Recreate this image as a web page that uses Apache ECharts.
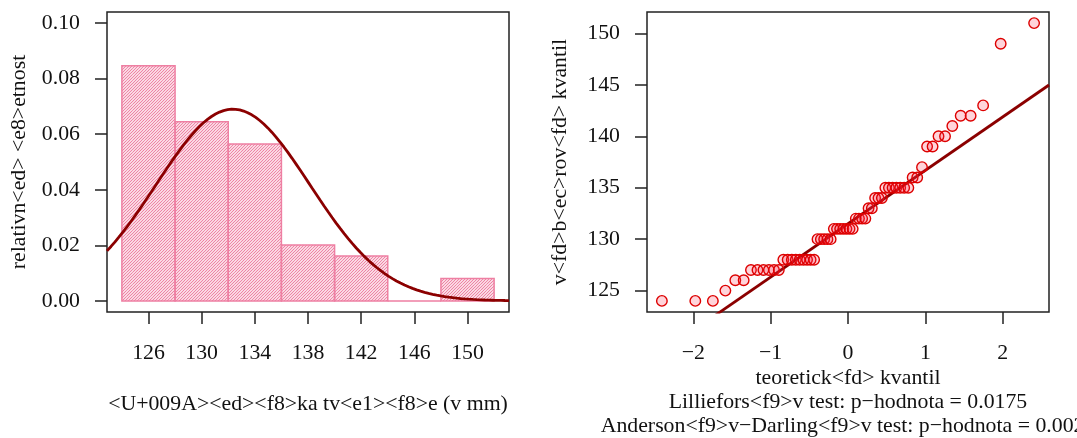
<!DOCTYPE html>
<html>
<head>
<meta charset="utf-8">
<script src="https://cdn.jsdelivr.net/npm/echarts@6/dist/echarts.min.js"></script>
<style>
  html, body { margin: 0; padding: 0; background: #fff; }
  #chart { width: 1077px; height: 438px; }
</style>
</head>
<body>
<div id="chart"></div>
<script>
// Observed lengths (mm) and how many times each occurs
const lengthValues = [124, 125, 126, 127, 128, 130, 131, 132, 133, 134, 135, 136, 137, 139, 140, 141, 142, 143, 149, 151];
const lengthCounts = [3, 1, 2, 6, 9, 5, 7, 4, 2, 3, 7, 2, 1, 2, 2, 1, 2, 1, 1, 1];

// Histogram class boundaries and vertical limits
const histBreaks = [124, 128, 132, 136, 140, 144, 148, 152];
const histYLimits = [0, 0.10];

// Tick labels
const histTicksX = [126, 130, 134, 138, 142, 146, 150];
const histTicksY = [0, 0.02, 0.04, 0.06, 0.08, 0.10];
const qqTicksX = [-2, -1, 0, 1, 2];
const qqTicksY = [125, 130, 135, 140, 145, 150];

// Text
const histXTitle = '<U+009A><ed><f8>ka tv<e1><f8>e (v mm)';
const histYTitle = 'relativn<ed> <e8>etnost';
const qqXTitle = 'teoretick<fd> kvantil';
const qqYTitle = 'v<fd>b<ec>rov<fd> kvantil';
const testLines = [
  'Lilliefors<f9>v test: p\u2212hodnota = 0.0175',
  'Anderson<f9>v\u2212Darling<f9>v test: p\u2212hodnota = 0.0021'
];

// ---- derived quantities ----
const sample = [];
lengthValues.forEach((v, i) => { for (let k = 0; k < lengthCounts[i]; k++) sample.push(v); });
sample.sort((a, b) => a - b);
const n = sample.length;
const mean = sample.reduce((s, v) => s + v, 0) / n;
const sd = Math.sqrt(sample.reduce((s, v) => s + (v - mean) * (v - mean), 0) / (n - 1));

// histogram densities, right-closed classes, first class includes its lower bound
const bins = [];
for (let k = 0; k < histBreaks.length - 1; k++) {
  const lo = histBreaks[k], hi = histBreaks[k + 1];
  const c = sample.filter(v => (v > lo || (k === 0 && v === lo)) && v <= hi).length;
  bins.push([lo, hi, c / (n * (hi - lo))]);
}

function extendRange(lo, hi) { const d = (hi - lo) * 0.04; return [lo - d, hi + d]; }
const histXRange = extendRange(histBreaks[0], histBreaks[histBreaks.length - 1]);
const histYRange = extendRange(histYLimits[0], histYLimits[1]);

// fitted normal density over the plotting range
function dnorm(x) { return Math.exp(-0.5 * ((x - mean) / sd) ** 2) / (sd * Math.sqrt(2 * Math.PI)); }
const curvePts = [];
for (let i = 0; i <= 100; i++) {
  const x = histXRange[0] + (histXRange[1] - histXRange[0]) * i / 100;
  curvePts.push([x, dnorm(x)]);
}

// inverse standard normal CDF (Acklam)
function qnorm(p) {
  const a = [-3.969683028665376e+01, 2.209460984245205e+02, -2.759285104469687e+02, 1.383577518672690e+02, -3.066479806614716e+01, 2.506628277459239e+00];
  const b = [-5.447609879822406e+01, 1.615858368580409e+02, -1.556989798598866e+02, 6.680131188771972e+01, -1.328068155288572e+01];
  const c = [-7.784894002430293e-03, -3.223964580411365e-01, -2.400758277161838e+00, -2.549732539343734e+00, 4.374664141464968e+00, 2.938163982698783e+00];
  const d = [7.784695709041462e-03, 3.224671290700398e-01, 2.445134137142996e+00, 3.754408661907416e+00];
  const pl = 0.02425;
  let q, r;
  if (p < pl) {
    q = Math.sqrt(-2 * Math.log(p));
    return (((((c[0] * q + c[1]) * q + c[2]) * q + c[3]) * q + c[4]) * q + c[5]) / ((((d[0] * q + d[1]) * q + d[2]) * q + d[3]) * q + 1);
  }
  if (p > 1 - pl) {
    q = Math.sqrt(-2 * Math.log(1 - p));
    return -(((((c[0] * q + c[1]) * q + c[2]) * q + c[3]) * q + c[4]) * q + c[5]) / ((((d[0] * q + d[1]) * q + d[2]) * q + d[3]) * q + 1);
  }
  q = p - 0.5; r = q * q;
  return (((((a[0] * r + a[1]) * r + a[2]) * r + a[3]) * r + a[4]) * r + a[5]) * q / (((((b[0] * r + b[1]) * r + b[2]) * r + b[3]) * r + b[4]) * r + 1);
}
function quantile(sorted, p) {
  const h = (sorted.length - 1) * p, lo = Math.floor(h);
  const hi = Math.min(lo + 1, sorted.length - 1);
  return sorted[lo] + (h - lo) * (sorted[hi] - sorted[lo]);
}

const qqPts = sample.map((v, i) => [qnorm((i + 0.5) / n), v]);
const qqXRange = extendRange(qqPts[0][0], qqPts[n - 1][0]);
const qqYRange = extendRange(sample[0], sample[n - 1]);
const q1 = quantile(sample, 0.25), q3 = quantile(sample, 0.75);
const slope = (q3 - q1) / (qnorm(0.75) - qnorm(0.25));
const intercept = q1 - slope * qnorm(0.25);
const qqLine = [qqXRange[0], qqXRange[1]].map(x => [x, intercept + slope * x]);

// ---- styling ----
const FONT = 'Liberation Serif';
const FS = 21.8;
const INK = '#111';
const PINK = '#EE7FA2';
const DARKRED = '#8B0000';

// diagonal hatching tile
const tile = document.createElement('canvas');
tile.width = 6; tile.height = 6;
(function () {
  const g = tile.getContext('2d');
  g.strokeStyle = PINK;
  g.lineWidth = 1.15;
  for (let c = -6; c <= 18; c += 3) {
    g.beginPath();
    g.moveTo(c + 1, -1);
    g.lineTo(-1, c + 1);
    g.stroke();
  }
})();
const hatch = { image: tile, repeat: 'repeat' };

function axisCommon(ticks, margin, formatter) {
  return {
    type: 'value',
    axisLine: { show: false, onZero: false },
    splitLine: { show: false },
    axisTick: { show: true, inside: false, length: 12, customValues: ticks, lineStyle: { color: '#222', width: 1.5 } },
    axisLabel: { customValues: ticks, margin: margin, fontFamily: FONT, fontSize: FS, color: INK, formatter: formatter }
  };
}
const minusFmt = v => (v < 0 ? '\u2212' + Math.abs(v) : String(v));

const gridStyle = { show: true, borderColor: '#222', borderWidth: 1.5, backgroundColor: 'transparent', containLabel: false };
const textStyle = { font: FS + 'px "' + FONT + '"', fill: INK, textAlign: 'center', textVerticalAlign: 'middle' };
function label(x, y, text, rotation) {
  return { type: 'text', x: x, y: y, rotation: rotation || 0, style: Object.assign({ text: text }, textStyle) };
}

const chart = echarts.init(document.getElementById('chart'), null, { renderer: 'canvas' });
chart.setOption({
  animation: false,
  backgroundColor: '#fff',
  grid: [
    Object.assign({ left: 107, top: 12, width: 402, height: 300 }, gridStyle),
    Object.assign({ left: 647, top: 12, width: 402, height: 300 }, gridStyle)
  ],
  xAxis: [
    Object.assign(axisCommon(histTicksX, 30, v => String(v)), { gridIndex: 0, min: histXRange[0], max: histXRange[1] }),
    Object.assign(axisCommon(qqTicksX, 30, minusFmt), { gridIndex: 1, min: qqXRange[0], max: qqXRange[1] })
  ],
  yAxis: [
    Object.assign(axisCommon(histTicksY, 27, v => v.toFixed(2)), { gridIndex: 0, min: histYRange[0], max: histYRange[1] }),
    Object.assign(axisCommon(qqTicksY, 27, v => String(v)), { gridIndex: 1, min: qqYRange[0], max: qqYRange[1] })
  ],
  series: [
    {
      type: 'custom',
      xAxisIndex: 0, yAxisIndex: 0,
      data: bins,
      encode: { x: [0, 1], y: 2 },
      renderItem: function (params, api) {
        const p0 = api.coord([api.value(0), api.value(2)]);
        const p1 = api.coord([api.value(1), 0]);
        return {
          type: 'rect',
          shape: { x: p0[0], y: p0[1], width: p1[0] - p0[0], height: p1[1] - p0[1] },
          style: { fill: hatch, stroke: PINK, lineWidth: 1.5 }
        };
      },
      z: 2
    },
    {
      type: 'line',
      xAxisIndex: 0, yAxisIndex: 0,
      data: curvePts,
      showSymbol: false,
      smooth: false,
      clip: true,
      lineStyle: { color: DARKRED, width: 2.8 },
      z: 3
    },
    {
      type: 'line',
      xAxisIndex: 1, yAxisIndex: 1,
      data: qqLine,
      showSymbol: false,
      clip: true,
      lineStyle: { color: DARKRED, width: 2.8 },
      z: 2
    },
    {
      type: 'scatter',
      xAxisIndex: 1, yAxisIndex: 1,
      data: qqPts,
      symbol: 'circle',
      symbolSize: 10.5,
      itemStyle: { color: 'rgba(255,40,70,0.2)', borderColor: '#DD0000', borderWidth: 1.4, opacity: 1 },
      z: 3
    }
  ],
  graphic: [
    label(308, 404, histXTitle),
    label(19, 162, histYTitle, Math.PI / 2),
    label(560, 162, qqYTitle, Math.PI / 2),
    label(848, 378, qqXTitle),
    label(848, 402, testLines[0]),
    label(848, 426, testLines[1])
  ]
});
</script>
</body>
</html>
